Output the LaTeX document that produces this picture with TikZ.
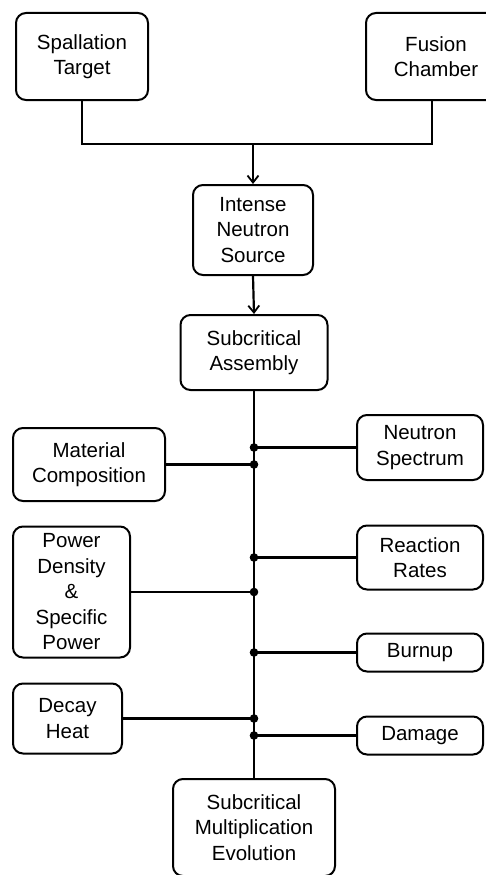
\documentclass[tikz,border=0pt]{standalone}
\usepackage{fontspec}
\setmainfont{Liberation Sans}
\usetikzlibrary{arrows.meta}
\begin{document}
\begin{tikzpicture}[x=1pt,y=-1pt,
  box/.style={draw, line width=2pt, rounded corners=10pt, align=center,
    font=\fontsize{20.5}{25.5}\selectfont, inner sep=0pt},
  conn/.style={line width=2.2pt},
  thickconn/.style={line width=2.9pt},
  trunk/.style={line width=2.8pt},
  arr/.style={line width=2.2pt, -{Straight Barb[length=7pt,width=11pt,line width=1.8pt]}},
  dotc/.style={fill=black}]
\path[use as bounding box] (0,0) rectangle (486,875);
\clip (0,0) rectangle (486,875);

\node[box, minimum width=132pt, minimum height=87pt] (spall) at (82,56.5) {Spallation\\Target};
\node[box, minimum width=140pt, minimum height=87pt] (fus) at (436,56.5) {Fusion\\Chamber};
\node[box, minimum width=120pt, minimum height=90pt] (ins) at (253,230) {Intense\\Neutron\\Source};
\node[box, minimum width=147pt, minimum height=75pt] (sa) at (254,352.5) {Subcritical\\Assembly};

\node[box, minimum width=126pt, minimum height=65pt] (ns) at (420,447.5) {Neutron\\Spectrum};
\node[box, minimum width=152pt, minimum height=73pt] (mc) at (89,464.5) {Material\\Composition};
\node[box, minimum width=126pt, minimum height=64pt] (rr) at (420,557.5) {Reaction\\Rates};
\node[box, minimum width=117pt, minimum height=131pt] (pd) at (71.5,592) {Power\\Density\\\&\\Specific\\Power};
\node[box, minimum width=126pt, minimum height=38pt] (bu) at (420,652.5) {Burnup};
\node[box, minimum width=109pt, minimum height=70pt] (dh) at (67.5,718.5) {Decay\\Heat};
\node[box, minimum width=126pt, minimum height=38pt] (dm) at (420,735.5) {Damage};
\node[box, minimum width=162pt, minimum height=97pt] (sme) at (254,827.5) {Subcritical\\Multiplication\\Evolution};

% top merge
\coordinate (mid) at (253,144);
\coordinate (fr) at (432,144);
\draw[conn] (spall.south) |- (fr) -- (fr |- fus.south);
\draw[arr] (mid) -- (ins.north);
\draw[arr] (ins.south) -- (sa.north);

% trunk
\draw[trunk] (sa.south) -- (sme.north);

% branches
\coordinate (j1) at (ns.west -| sa.south);
\coordinate (j2) at (mc.east -| sa.south);
\coordinate (j3) at (rr.west -| sa.south);
\coordinate (j4) at (pd.east -| sa.south);
\coordinate (j5) at (bu.west -| sa.south);
\coordinate (j6) at (dh.east -| sa.south);
\coordinate (j7) at (dm.west -| sa.south);

\draw[conn] (ns.west) -- (j1);
\draw[conn] (mc.east) -- (j2);
\draw[thickconn] (rr.west) -- (j3);
\draw[thickconn] (pd.east) -- (j4);
\draw[thickconn] (bu.west) -- (j5);
\draw[conn] (dh.east) -- (j6);
\draw[conn] (dm.west) -- (j7);

\foreach \j in {j1,j2,j3,j4,j5,j6,j7}
  \fill[dotc] (\j) circle (4.3pt);
\end{tikzpicture}
\end{document}
